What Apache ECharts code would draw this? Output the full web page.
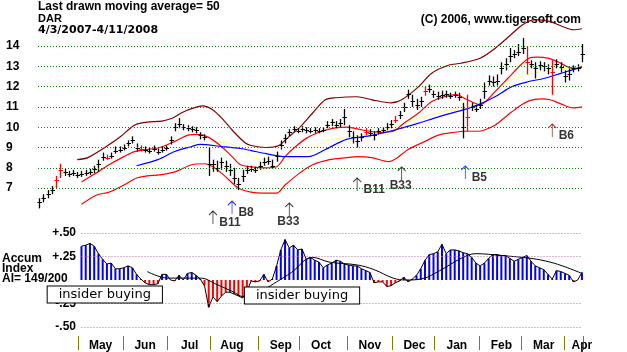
<!DOCTYPE html>
<html>
<head>
<meta charset="utf-8">
<script src="https://cdn.jsdelivr.net/npm/echarts@6/dist/echarts.min.js"></script>
<style>
  html, body { margin: 0; padding: 0; background: #fff; }
  #chart { width: 627px; height: 352px; }
</style>
</head>
<body>
<div id="chart"></div>
<script>
// trading days 4/3/2007 .. 4/11/2008
const DAYS = 257
const monthStarts = [0, 19, 40, 61, 81, 104, 123, 146, 167, 187, 208, 228, 248]
const monthNames = ['Apr', 'May', 'Jun', 'Jul', 'Aug', 'Sep', 'Oct', 'Nov', 'Dec', 'Jan', 'Feb', 'Mar', 'Apr']
const priceTicks = [7, 8, 9, 10, 11, 12, 13, 14]
const aiTicks = [0.5, 0.25, -0.25, -0.5]
const aiTickLabels = { '0.5': '+.50', '0.25': '+.25', '-0.25': '-.25', '-0.5': '-.50' }

// price bars, one every 2 trading days
const closes = [6.3, 6.5, 6.7, 6.9, 7.4, 7.9, 7.8, 7.7, 7.75, 7.65, 7.7, 7.75, 7.8, 7.95, 8.2, 8.55, 8.5, 8.6, 8.85, 8.9,
  9.0, 9.2, 9.35, 9.0, 8.95, 8.9, 8.85, 8.95, 8.8, 8.9, 9.0, 9.35, 10.0, 10.15, 10.0, 9.95, 9.9, 9.85, 9.6, 9.5,
  8.2, 8.2, 8.0, 8.3, 8.1, 7.9, 7.5, 7.2, 7.6, 7.9, 7.95, 7.9, 8.1, 8.3, 8.35, 8.1, 8.6, 9.1, 9.45, 9.75,
  9.9, 9.8, 9.9, 9.85, 9.8, 9.85, 9.8, 9.85, 10.1, 10.25, 10.1, 10.2, 10.5, 9.8, 9.5, 9.3, 9.5, 9.75, 9.7, 9.6,
  9.8, 9.85, 10.0, 10.15, 10.35, 10.6, 11.0, 11.65, 11.3, 11.1, 11.3, 11.8, 11.9, 11.65, 11.55, 11.6, 11.65, 11.55, 11.6, 11.5,
  10.0, 10.5, 11.0, 10.9, 11.1, 11.8, 12.3, 12.25, 12.3, 12.9, 13.1, 13.5, 13.6, 13.7, 13.9, 13.2, 13.1, 12.9, 13.05, 13.0,
  12.9, 12.7, 13.1, 12.95, 12.5, 12.6, 12.9, 12.9, 13.6]
const highs = [6.5, 6.7, 6.9, 7.1, 7.6, 8.2, 7.95, 7.85, 7.9, 7.8, 7.85, 7.9, 7.95, 8.1, 8.4, 8.75, 8.65, 8.75, 9.05, 9.05,
  9.15, 9.35, 9.55, 9.2, 9.1, 9.05, 9.0, 9.1, 8.95, 9.05, 9.1, 9.55, 10.2, 10.45, 10.15, 10.1, 10.05, 10.0, 9.75, 9.65,
  9.0, 8.4, 8.35, 8.5, 8.35, 8.2, 8.0, 7.5, 7.9, 8.1, 8.1, 8.05, 8.3, 8.5, 8.55, 8.4, 8.8, 9.35, 9.65, 9.9,
  10.05, 9.95, 10.05, 10.0, 9.95, 10.0, 9.95, 10.0, 10.3, 10.4, 10.3, 10.4, 10.9, 10.1, 9.8, 9.6, 9.7, 9.95, 9.9, 9.8,
  9.95, 10.0, 10.2, 10.35, 10.55, 10.8, 11.2, 11.85, 11.6, 11.4, 11.5, 12.0, 12.1, 11.8, 11.75, 11.8, 11.8, 11.7, 11.75, 11.7,
  11.2, 11.6, 11.2, 11.1, 11.4, 12.2, 12.55, 12.5, 12.6, 13.2, 13.4, 13.9, 13.8, 14.1, 14.4, 14.0, 13.3, 13.2, 13.25, 13.2,
  13.1, 13.3, 13.35, 13.2, 12.8, 12.9, 13.05, 13.1, 14.1]
const lows = [6.0, 6.3, 6.5, 6.7, 7.0, 7.5, 7.6, 7.55, 7.6, 7.5, 7.55, 7.6, 7.65, 7.75, 7.8, 8.35, 8.4, 8.45, 8.7, 8.75,
  8.85, 9.05, 9.2, 8.8, 8.8, 8.75, 8.7, 8.8, 8.65, 8.75, 8.85, 9.15, 9.8, 9.95, 9.85, 9.8, 9.75, 9.7, 9.4, 9.35,
  7.6, 7.8, 7.8, 7.9, 7.8, 7.6, 7.2, 6.9, 7.3, 7.7, 7.8, 7.75, 7.9, 8.1, 8.15, 7.95, 8.3, 8.9, 9.2, 9.55,
  9.75, 9.7, 9.75, 9.7, 9.7, 9.7, 9.7, 9.75, 9.95, 10.05, 9.95, 10.0, 10.1, 9.5, 9.2, 9.0, 9.3, 9.6, 9.55, 9.35,
  9.65, 9.7, 9.85, 9.95, 10.2, 10.4, 10.75, 11.4, 11.0, 10.85, 11.0, 11.55, 11.7, 11.45, 11.35, 11.4, 11.45, 11.4, 11.45, 11.3,
  9.45, 9.8, 10.8, 10.75, 10.9, 11.4, 12.05, 12.0, 12.05, 12.6, 12.8, 13.2, 13.4, 13.5, 13.6, 12.6, 12.9, 12.4, 12.8, 12.75,
  12.6, 11.6, 12.9, 12.7, 12.2, 12.3, 12.7, 12.75, 13.2]
const redDays = [8, 10, 32, 48, 154, 168, 182, 202, 230, 242]

// bands and averages: [trading day, price]
const upperBand = [[18, 8.4], [23, 8.5], [31, 9.0], [38, 9.5], [43, 9.95], [46, 10.15], [51, 10.25], [58, 10.3], [63, 10.45],
  [68, 10.75], [73, 10.95], [77, 11.05], [82, 10.85], [87, 10.35], [92, 9.75], [97, 9.25], [100, 9.1], [107, 9.0], [113, 9.1],
  [118, 9.55], [123, 10.0], [129, 10.7], [135, 11.35], [140, 11.45], [150, 11.5], [157, 11.35], [166, 11.2], [171, 11.35],
  [179, 12.0], [185, 12.65], [193, 13.05], [199, 13.15], [208, 13.4], [214, 13.8], [223, 14.6], [228, 15.05], [234, 15.3],
  [241, 15.2], [247, 14.95], [252, 14.8], [256, 14.85]]
const midBand = [[20, 7.3], [27, 7.75], [33, 8.15], [40, 8.55], [45, 8.8], [51, 8.9], [57, 9.0], [64, 9.3], [70, 9.6], [75, 9.65],
  [80, 9.5], [86, 9.05], [91, 8.55], [95, 8.15], [100, 8.05], [107, 8.0], [112, 8.05], [116, 8.55], [121, 9.05], [126, 9.45],
  [132, 9.75], [139, 9.95], [145, 10.0], [153, 9.85], [161, 9.75], [167, 9.8], [172, 10.2], [179, 10.7], [185, 11.25],
  [191, 11.5], [197, 11.6], [201, 11.4], [205, 11.2], [208, 11.1], [215, 11.75], [221, 12.4], [227, 13.05], [231, 13.4],
  [235, 13.45], [240, 13.4], [245, 13.2], [250, 12.95], [254, 12.9], [256, 13.0]]
const lowerBand = [[20, 6.2], [27, 6.65], [33, 6.8], [40, 7.15], [46, 7.5], [51, 7.6], [57, 7.65], [64, 7.8], [72, 8.15], [78, 8.2],
  [82, 8.05], [87, 7.65], [94, 7.0], [100, 6.8], [107, 6.75], [112, 6.75], [116, 7.15], [123, 7.75], [129, 8.15], [137, 8.4],
  [145, 8.5], [150, 8.55], [157, 8.5], [165, 8.3], [169, 8.5], [174, 8.9], [182, 9.3], [188, 9.6], [196, 9.75], [201, 9.8],
  [207, 9.8], [215, 10.1], [221, 10.6], [226, 11.0], [231, 11.3], [237, 11.4], [241, 11.35], [246, 11.15], [252, 10.95], [256, 11.0]]
const ma50 = [[46, 8.1], [56, 8.4], [64, 8.8], [72, 9.05], [76, 9.15], [86, 9.05], [95, 8.95], [100, 8.85], [107, 8.7],
  [116, 8.55], [127, 8.55], [135, 8.9], [145, 9.4], [157, 9.6], [169, 9.9], [179, 10.2], [188, 10.5], [200, 10.85],
  [207, 11.1], [215, 11.5], [223, 12.0], [231, 12.25], [238, 12.4], [246, 12.65], [254, 12.9], [256, 12.95]]
const maYellow = [[46, 7.9], [60, 8.5], [75, 9.3], [90, 9.2], [105, 8.4], [120, 8.5], [135, 9.3], [150, 9.6], [167, 10.0],
  [179, 10.45], [199, 11.0], [210, 11.3], [222, 12.3], [240, 12.8], [256, 12.95]]

// accumulation index, one value every 2 trading days from day 20
const aiStart = 20
const aiValues = [0.36, 0.37, 0.39, 0.36, 0.28, 0.22, 0.17, 0.18, 0.12, 0.12, 0.13, 0.15, 0.13, 0.06, 0.01, -0.03, -0.05, -0.05,
  -0.04, 0.06, 0.06, 0.0, -0.01, 0.05, 0.0, 0.07, 0.08, 0.05, 0.01, -0.06, -0.29, -0.18, -0.23, -0.17, -0.13, -0.13, -0.15,
  -0.17, -0.19, -0.12, -0.01, -0.02, -0.01, 0.06, -0.02, 0.01, 0.15, 0.32, 0.43, 0.34, 0.37, 0.32, 0.33, 0.22, 0.24, 0.21,
  0.19, 0.13, 0.16, 0.18, 0.21, 0.2, 0.17, 0.16, 0.15, 0.15, 0.12, 0.1, 0.08, -0.03, -0.02, -0.02, -0.07, -0.06, -0.03, -0.01,
  0.03, -0.02, 0.01, 0.05, 0.12, 0.21, 0.27, 0.28, 0.3, 0.38, 0.28, 0.32, 0.32, 0.31, 0.29, 0.28, 0.24, 0.18, 0.15, 0.18,
  0.23, 0.27, 0.27, 0.26, 0.26, 0.23, 0.2, 0.22, 0.24, 0.26, 0.2, 0.15, 0.13, 0.11, 0.06, 0.01, 0.1, 0.09, 0.07, 0.05,
  -0.02, 0.0, 0.08]
const aiMA = [[51, 0.09], [61, 0.02], [76, 0.02], [84, -0.05], [91, -0.12], [97, -0.18], [106, -0.1], [112, -0.02], [119, 0.08],
  [129, 0.24], [137, 0.19], [150, 0.16], [158, 0.11], [167, 0.02], [173, 0.0], [180, 0.01], [189, 0.1], [199, 0.23],
  [206, 0.28], [218, 0.26], [232, 0.23], [241, 0.19], [248, 0.14], [256, 0.07]]

// buy signals
const sigNames = ['B11', 'B8', 'B33', 'B11', 'B33', 'B5', 'B6']
const sigDays = [82, 91, 118, 150, 171, 201, 242]
const sigValues = [5.87, 6.36, 6.27, 7.5, 8.04, 8.09, 10.16]

const chart = echarts.init(document.getElementById('chart'), null, { renderer: 'canvas' })

const dayCats = Array.from({ length: DAYS }, (_, i) => String(i))
const monthLabelAt = {}
monthStarts.forEach((s, i) => { if (i > 0) monthLabelAt[Math.min(s + 10, DAYS - 1)] = monthNames[i] })
const bottomCats = dayCats.map((d, i) => monthLabelAt[i] || '')

const barData = closes.map((c, i) => [i * 2, lows[i], highs[i], c])
const aiData = aiValues.map((v, i) => [aiStart + i * 2, v])

const sigColors = { B8: '#0000ff', B5: '#0000ff', B6: '#800000' }
const sigBelow = { B33: true }
const arrowPath = 'path://M4,0 L4,13 M0,4 L4,0 L8,4'

const FONT = 'Liberation Sans'

const option = {
  animation: false,
  backgroundColor: '#fff',
  grid: [
    { left: 38, top: 15.55, width: 545, height: 213.15 },
    { left: 38, top: 233, width: 545, height: 94 }
  ],
  xAxis: [
    { type: 'category', gridIndex: 0, data: dayCats, boundaryGap: true, show: false },
    {
      type: 'category', gridIndex: 1, data: bottomCats, boundaryGap: true, offset: 9,
      axisLine: { show: false, onZero: false },
      axisTick: {
        show: true, length: 14, lineStyle: { color: '#808000', width: 1 },
        interval: (i) => i > 0 && monthStarts.includes(i)
      },
      axisLabel: { interval: 0, margin: 4, color: '#000', fontFamily: FONT, fontWeight: 'bold', fontSize: 12 }
    }
  ],
  yAxis: [
    {
      type: 'value', gridIndex: 0, min: 5, max: 15.5, interval: 1,
      axisLine: { show: false }, axisTick: { show: false }, splitLine: { show: false },
      axisLabel: {
        align: 'left', margin: 32, color: '#000', fontFamily: FONT, fontWeight: 'bold', fontSize: 12,
        formatter: (v) => priceTicks.includes(v) ? String(v) : ''
      }
    },
    {
      type: 'value', gridIndex: 1, min: -0.5, max: 0.5, interval: 0.25, offset: -40,
      axisLine: { show: false }, axisTick: { show: false }, splitLine: { show: false },
      axisLabel: {
        margin: 2, color: '#000', fontFamily: FONT, fontWeight: 'bold', fontSize: 12,
        formatter: (v) => aiTickLabels[String(v)] || ''
      }
    }
  ],
  graphic: [
    { type: 'text', left: 38, top: 1, style: { text: 'Last drawn moving average= 50', font: 'bold 12px "Liberation Sans"', fill: '#000' } },
    { type: 'text', left: 38, top: 13, style: { text: 'DAR', font: 'bold 11px "Liberation Sans"', fill: '#000' } },
    { type: 'text', left: 38, top: 25, style: { text: '4/3/2007-4/11/2008', font: 'bold 11px "DejaVu Sans"', fill: '#000' } },
    { type: 'text', right: 46, top: 14, style: { text: '(C) 2006, www.tigersoft.com', font: 'bold 12px "Liberation Sans"', fill: '#000' } },
    { type: 'text', left: 2, top: 253, style: { text: 'Accum', font: 'bold 12px "Liberation Sans"', fill: '#000' } },
    { type: 'text', left: 2, top: 263, style: { text: 'Index', font: 'bold 12px "Liberation Sans"', fill: '#000' } },
    { type: 'text', left: 2, top: 273, style: { text: 'AI= 149/200', font: 'bold 12px "Liberation Sans"', fill: '#000' } }
  ],
  series: [
    {
      name: 'upper', type: 'line', xAxisIndex: 0, yAxisIndex: 0, data: upperBand, smooth: 0.3, symbol: 'none',
      lineStyle: { color: '#800000', width: 1.2 }, z: 2,
      markLine: {
        silent: true, symbol: ['none', 'none'], label: { show: false },
        lineStyle: { color: '#008000', type: [1, 2], width: 1 },
        data: priceTicks.map(v => ({ yAxis: v }))
      }
    },
    { name: 'yellow', type: 'line', xAxisIndex: 0, yAxisIndex: 0, data: maYellow, smooth: 0.3, symbol: 'none', lineStyle: { color: '#ffff88', width: 1 }, z: 2 },
    { name: 'mid', type: 'line', xAxisIndex: 0, yAxisIndex: 0, data: midBand, smooth: 0.3, symbol: 'none', lineStyle: { color: '#ff0000', width: 1.2 }, z: 2 },
    { name: 'lower', type: 'line', xAxisIndex: 0, yAxisIndex: 0, data: lowerBand, smooth: 0.3, symbol: 'none', lineStyle: { color: '#ff0000', width: 1.2 }, z: 2 },
    { name: 'ma50', type: 'line', xAxisIndex: 0, yAxisIndex: 0, data: ma50, smooth: 0.3, symbol: 'none', lineStyle: { color: '#0000ff', width: 1.2 }, z: 2 },
    {
      name: 'price', type: 'custom', xAxisIndex: 0, yAxisIndex: 0, data: barData, z: 3,
      encode: { x: 0, y: [1, 2, 3] },
      renderItem: (params, api) => {
        const d = api.value(0)
        const lo = api.coord([d, api.value(1)])
        const hi = api.coord([d, api.value(2)])
        const cl = api.coord([d, api.value(3)])
        const color = redDays.includes(d) ? '#ff0000' : '#000000'
        const x = Math.round(lo[0]) + 0.5
        const yc = Math.round(cl[1]) + 0.5
        return {
          type: 'group',
          children: [
            { type: 'line', shape: { x1: x, y1: hi[1], x2: x, y2: lo[1] }, style: { stroke: color, lineWidth: 1.3 } },
            { type: 'line', shape: { x1: x - 2, y1: yc, x2: x + 2.5, y2: yc }, style: { stroke: color, lineWidth: 1 } }
          ]
        }
      }
    },
    {
      name: 'signals', type: 'scatter', xAxisIndex: 0, yAxisIndex: 0, z: 4,
      data: sigNames.map((n, i) => ({
        value: [sigDays[i], sigValues[i]],
        name: n,
        itemStyle: { borderColor: sigColors[n] || '#000' },
        label: sigBelow[n]
          ? { position: 'bottom', distance: -1, offset: [-1, 0] }
          : { position: 'right', distance: 2, offset: [0, 5] }
      })),
      symbol: arrowPath, symbolSize: [8, 13], symbolOffset: [0, '50%'],
      itemStyle: { color: 'rgba(0,0,0,0)', borderWidth: 1 },
      label: {
        show: true, formatter: (p) => p.name, color: '#000',
        fontFamily: FONT, fontWeight: 'bold', fontSize: 12
      }
    },
    {
      name: 'ai', type: 'bar', xAxisIndex: 1, yAxisIndex: 1, data: aiData, barWidth: 2, z: 2,
      itemStyle: { color: (p) => p.value[1] >= 0 ? '#0000ff' : '#ff0000' },
      markLine: {
        silent: true, symbol: ['none', 'none'], label: { show: false },
        lineStyle: { color: '#b070b0', type: [1, 2], width: 1 },
        data: aiTicks.map(v => [{ xAxis: 20, yAxis: v }, { xAxis: 256, yAxis: v }])
      },
      markPoint: {
        symbol: 'rect', symbolSize: 1, itemStyle: { color: 'rgba(0,0,0,0)' }, z: 10,
        label: {
          show: true, position: 'inside', formatter: 'insider buying', color: '#000',
          fontFamily: 'DejaVu Sans', fontSize: 13, lineHeight: 15,
          backgroundColor: '#fff', borderColor: '#000', borderWidth: 1, padding: [1, 11, 0, 11]
        },
        data: [{ coord: [31, -0.155] }, { coord: [124, -0.165] }]
      }
    },
    { name: 'aiLine', type: 'line', xAxisIndex: 1, yAxisIndex: 1, data: aiData, symbol: 'none', lineStyle: { color: '#000', width: 1 }, z: 3 },
    { name: 'aiMA', type: 'line', xAxisIndex: 1, yAxisIndex: 1, data: aiMA, smooth: 0.4, symbol: 'none', lineStyle: { color: '#000', width: 1 }, z: 3 }
  ]
}

chart.setOption(option)
window.addEventListener('resize', () => chart.resize())
</script>
</body>
</html>
